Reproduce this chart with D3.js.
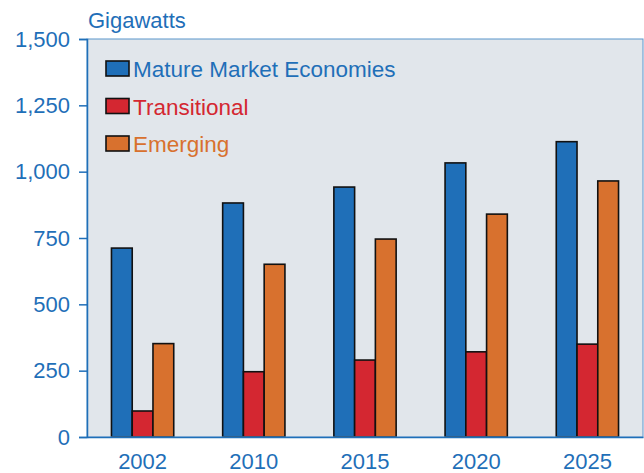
<!DOCTYPE html>
<html>
<head>
<meta charset="utf-8">
<script src="https://cdn.jsdelivr.net/npm/d3@7"></script>
<style>
  html, body { margin: 0; padding: 0; background: #ffffff; }
  svg { display: block; font-family: "Liberation Sans", Arial, sans-serif; }
</style>
</head>
<body>
<svg id="chart" width="644" height="473"></svg>
<script>
// Installed generating capacity by region group, in gigawatts
const years = ["2002", "2010", "2015", "2020", "2025"];
const seriesNames = ["Mature Market Economies", "Transitional", "Emerging"];
const mature = [712, 882, 942, 1033, 1113];
const transitional = [98, 246, 290, 321, 350];
const emerging = [352, 651, 746, 840, 965];
const yTicks = [0, 250, 500, 750, 1000, 1250, 1500];
const colors = ["#1f6fb8", "#d42731", "#d8712e"];

const seriesValues = [mature, transitional, emerging];

const svg = d3.select("#chart");
const margin = { top: 39, right: 1, bottom: 36, left: 87 };
const W = 644, H = 473;
const innerW = W - margin.left - margin.right;
const innerH = H - margin.top - margin.bottom;
const axisBlue = "#1f6fb8";

const g = svg.append("g").attr("transform", `translate(${margin.left},${margin.top})`);

const x0 = d3.scaleBand().domain(years).range([0, innerW]).paddingInner(0.44).paddingOuter(0.22);
const x1 = d3.scaleBand().domain(seriesNames).range([0, x0.bandwidth()]);
const y = d3.scaleLinear().domain([0, 1500]).range([innerH, 0]);

// plot background
g.append("rect")
  .attr("width", innerW).attr("height", innerH)
  .attr("fill", "#e1e6eb");

// bars
const groups = g.selectAll("g.year")
  .data(years)
  .join("g")
  .attr("class", "year")
  .attr("transform", d => `translate(${x0(d)},0)`);

groups.selectAll("rect")
  .data((d, i) => seriesNames.map((s, k) => ({ s, k, v: seriesValues[k][i] })))
  .join("rect")
  .attr("x", d => x1(d.s))
  .attr("width", x1.bandwidth())
  .attr("y", d => y(d.v))
  .attr("height", d => innerH - y(d.v))
  .attr("fill", d => colors[d.k])
  .attr("stroke", "#111")
  .attr("stroke-width", 1.6);

// frame
g.append("rect")
  .attr("width", innerW).attr("height", innerH)
  .attr("fill", "none")
  .attr("stroke", "#5b95cc")
  .attr("stroke-width", 1);

// y axis
const yAxis = g.append("g")
  .call(d3.axisLeft(y).tickValues(yTicks).tickSize(8).tickPadding(9).tickFormat(d3.format(",")));
yAxis.select(".domain").attr("stroke", axisBlue).attr("stroke-width", 1.5);
yAxis.selectAll(".tick line").attr("stroke", axisBlue).attr("stroke-width", 1.5);
yAxis.selectAll(".tick text")
  .attr("fill", axisBlue)
  .style("font-size", "22px")
  .style("font-family", "Liberation Sans, Arial, sans-serif");

// x axis
const xAxis = g.append("g")
  .attr("transform", `translate(0,${innerH})`)
  .call(d3.axisBottom(x0).tickSize(0).tickPadding(16));
xAxis.select(".domain").attr("stroke", axisBlue).attr("stroke-width", 1.5);
xAxis.selectAll(".tick text")
  .attr("fill", axisBlue)
  .style("font-size", "22px")
  .style("font-family", "Liberation Sans, Arial, sans-serif");

// axis title
svg.append("text")
  .attr("x", 88).attr("y", 28)
  .attr("fill", axisBlue)
  .style("font-size", "22px")
  .text("Gigawatts");

// legend
const legend = svg.append("g").attr("transform", "translate(106,61)");
const rows = legend.selectAll("g")
  .data(seriesNames)
  .join("g")
  .attr("transform", (d, i) => `translate(0,${i * 37.5})`);
rows.append("rect")
  .attr("width", 23).attr("height", 15)
  .attr("fill", (d, i) => colors[i])
  .attr("stroke", "#111")
  .attr("stroke-width", 1.6);
rows.append("text")
  .attr("x", 27).attr("y", 16)
  .attr("fill", (d, i) => colors[i])
  .style("font-size", "22.5px")
  .text(d => d);
</script>
</body>
</html>
